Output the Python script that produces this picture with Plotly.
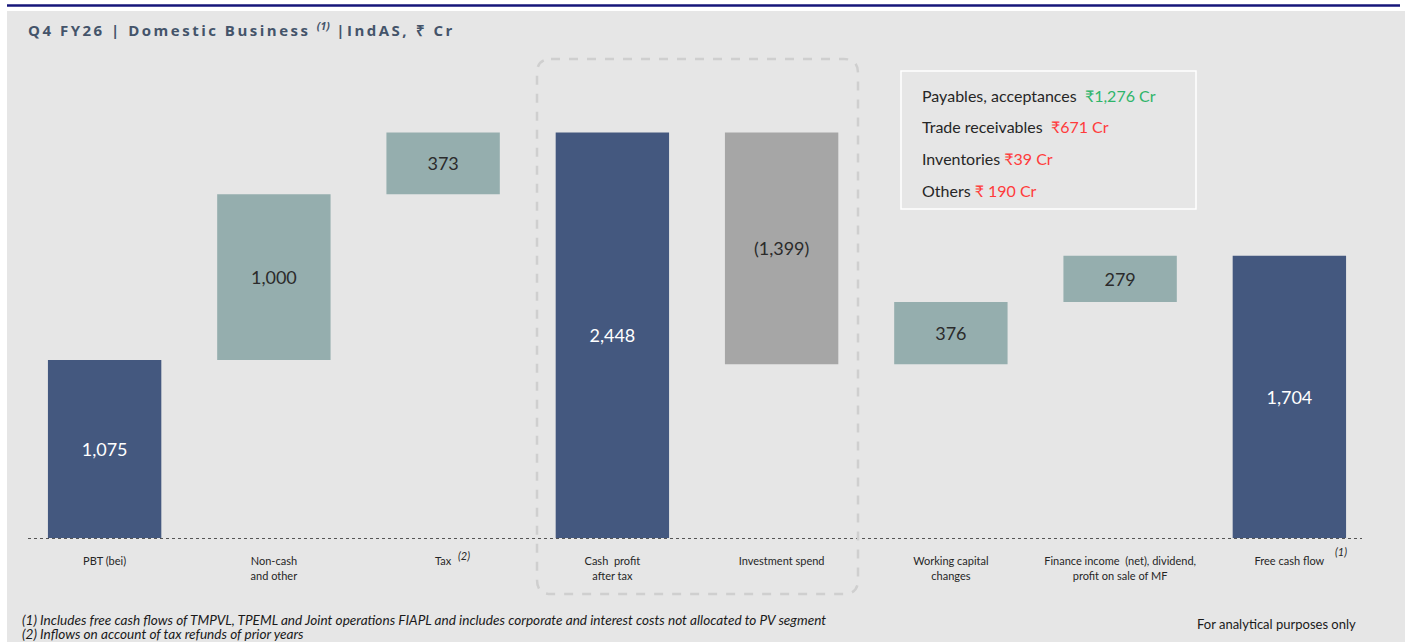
import plotly.graph_objects as go

# ---- data ----
categories = ["PBT (bei)", "Non-cash<br>and other", "Tax", "Cash  profit<br>after tax",
              "Investment spend", "Working capital<br>changes",
              "Finance income  (net), dividend,<br>profit on sale of MF", "Free cash flow"]
measures = ["absolute", "relative", "relative", "total", "relative", "relative", "relative", "total"]
values = [1075, 1000, 373, 2448, -1399, 376, 279, 1704]
wc_items = ["Payables, acceptances", "Trade receivables", "Inventories", "Others"]
wc_values = ["₹1,276 Cr", "₹671 Cr", "₹39 Cr", "₹ 190 Cr"]
wc_colors = ["#2fb56a", "#ff3b3b", "#ff3b3b", "#ff3b3b"]

NAVY = "#44587f"
TEAL = "#95aeae"
GREY = "#a6a6a6"
BG = "#e6e6e6"
FONT = "Lato"

W, H = 1405, 642
ML, MR, MT, MB = 20, 31, 41, 104
PW, PH = W - ML - MR, H - MT - MB


def fx(px):
    return (px - ML) / PW


def fy(py):
    return (H - MB - py) / PH


def fmt(v):
    s = f"{abs(v):,}"
    return f"({s})" if v < 0 else s


texts = [fmt(v) for v in values]
text_colors = ["white" if m in ("absolute", "total") else "#2b2b2b" for m in measures]
xs = list(range(len(categories)))

fig = go.Figure(go.Waterfall(
    x=xs, y=values, measure=measures,
    text=texts, textposition="inside", insidetextanchor="middle",
    textfont=dict(family=FONT, size=18, color=text_colors),
    increasing=dict(marker=dict(color=TEAL)),
    decreasing=dict(marker=dict(color=GREY)),
    totals=dict(marker=dict(color=NAVY)),
    connector=dict(visible=False),
    width=0.67, hoverinfo="skip", showlegend=False,
))

shapes = []
# grey panel
shapes.append(dict(type="rect", xref="paper", yref="paper", layer="below",
                   x0=fx(7), x1=fx(W + 5), y0=fy(11), y1=fy(H + 5),
                   fillcolor=BG, line=dict(width=0)))
# top navy rule
shapes.append(dict(type="line", xref="paper", yref="paper",
                   x0=fx(7), x1=fx(1400), y0=fy(5.5), y1=fy(5.5),
                   line=dict(color="#16167a", width=2.5)))
# baseline dotted
shapes.append(dict(type="line", xref="paper", yref="paper", layer="below",
                   x0=fx(28), x1=fx(1362), y0=fy(538.5), y1=fy(538.5),
                   line=dict(color="#555555", width=1, dash="dot")))
# dashed rounded rect
x0, x1, y0, y1, r = 537, 858, 59, 594, 14
path = (f"M {fx(x0 + r)},{fy(y0)} L {fx(x1 - r)},{fy(y0)} Q {fx(x1)},{fy(y0)} {fx(x1)},{fy(y0 + r)} "
        f"L {fx(x1)},{fy(y1 - r)} Q {fx(x1)},{fy(y1)} {fx(x1 - r)},{fy(y1)} "
        f"L {fx(x0 + r)},{fy(y1)} Q {fx(x0)},{fy(y1)} {fx(x0)},{fy(y1 - r)} "
        f"L {fx(x0)},{fy(y0 + r)} Q {fx(x0)},{fy(y0)} {fx(x0 + r)},{fy(y0)} Z")
shapes.append(dict(type="path", xref="paper", yref="paper", path=path, layer="below",
                   line=dict(color="#cfcfcf", width=2.5, dash="dash")))
# info box
shapes.append(dict(type="rect", xref="paper", yref="paper",
                   x0=fx(901), x1=fx(1196), y0=fy(71), y1=fy(209),
                   line=dict(color="white", width=1.5), fillcolor="rgba(0,0,0,0)"))

annotations = []
annotations.append(dict(xref="paper", yref="paper", x=fx(26), y=fy(30), xanchor="left", yanchor="middle",
                        text="<span style='letter-spacing:2.5px'>Q4 FY26 | Domestic Business </span>"
                             "<sup><i>(1)</i></sup>"
                             "<span style='letter-spacing:2.5px'> |IndAS, ₹ Cr</span>",
                        showarrow=False, font=dict(family="Open Sans", size=15, color="#44546a", weight="bold")))
for i, (item, val, col) in enumerate(zip(wc_items, wc_values, wc_colors)):
    sep = "  " if i < 2 else " "
    annotations.append(dict(xref="paper", yref="paper", x=fx(920), y=fy(95 + i * 31.7),
                            xanchor="left", yanchor="middle", showarrow=False,
                            text=f"{item}{sep}<span style='color:{col}'>{val}</span>",
                            font=dict(family=FONT, size=16, color="#262626")))
annotations.append(dict(xref="x", yref="paper", x=2, xshift=21, y=fy(555), xanchor="center", yanchor="middle",
                        text="<i>(2)</i>", showarrow=False, font=dict(family=FONT, size=11, color="#262626")))
annotations.append(dict(xref="x", yref="paper", x=7, xshift=52, y=fy(551), xanchor="center", yanchor="middle",
                        text="<i>(1)</i>", showarrow=False, font=dict(family=FONT, size=11, color="#262626")))
annotations.append(dict(xref="paper", yref="paper", x=fx(20), y=fy(620), xanchor="left", yanchor="middle",
                        text="<i>(1) Includes free cash flows of TMPVL, TPEML and Joint operations FIAPL and includes corporate and interest costs not allocated to PV segment</i>",
                        showarrow=False, font=dict(family=FONT, size=13.6, color="#1a1a1a")))
annotations.append(dict(xref="paper", yref="paper", x=fx(20), y=fy(633.5), xanchor="left", yanchor="middle",
                        text="<i>(2) Inflows on account of tax refunds of prior years</i>",
                        showarrow=False, font=dict(family=FONT, size=13.6, color="#1a1a1a")))
annotations.append(dict(xref="paper", yref="paper", x=fx(1358), y=fy(624), xanchor="right", yanchor="middle",
                        text="For analytical purposes only",
                        showarrow=False, font=dict(family=FONT, size=13, color="#1a1a1a")))

fig.update_layout(
    width=W, height=H,
    margin=dict(l=ML, r=MR, t=MT, b=MB),
    paper_bgcolor="white", plot_bgcolor="rgba(0,0,0,0)",
    shapes=shapes, annotations=annotations,
    xaxis=dict(range=[-0.5, 7.5], tickmode="array", tickvals=xs, ticktext=categories,
               showgrid=False, zeroline=False, showline=False,
               ticks="outside", ticklen=13, tickcolor="rgba(0,0,0,0)",
               tickfont=dict(family=FONT, size=11, color="#262626")),
    yaxis=dict(range=[0, 3000], visible=False, showgrid=False, zeroline=False),
)

fig.write_html("out.html", config={"displayModeBar": False},
               post_script="document.body.style.margin='0';document.body.style.overflow='hidden';")
